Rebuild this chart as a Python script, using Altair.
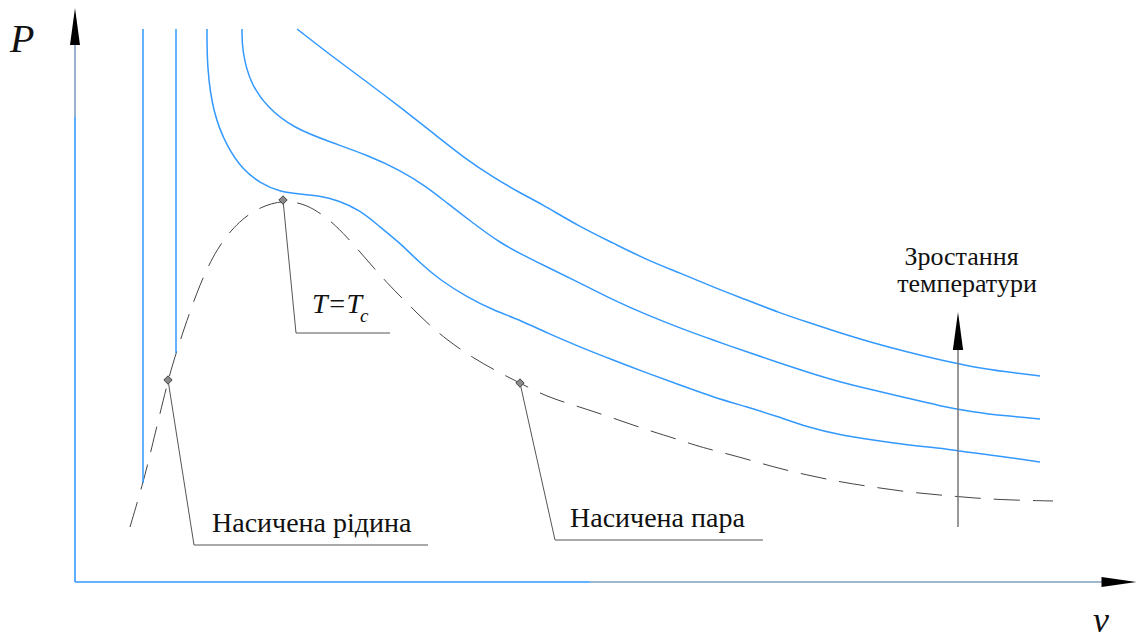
import altair as alt
import pandas as pd

BLUE = "#3399ff"
FONT = "Liberation Serif, Times New Roman, DejaVu Serif, serif"

# Critical isotherm T = Tc (specific volume v, pressure P, diagram units)
crit_v = [1.32, 1.32, 1.38, 1.52, 1.68, 1.85, 2.05, 2.25, 2.45, 2.62, 2.85, 3.05, 3.25, 3.45,
          3.65, 3.92, 4.18, 4.45, 4.72, 5.05, 5.38, 5.72, 6.05, 6.38, 6.72, 7.01, 7.32, 7.65,
          7.98, 8.32, 8.65, 8.98, 9.32, 9.65]
crit_P = [5.53, 5.15, 4.69, 4.35, 4.12, 3.99, 3.90, 3.88, 3.86, 3.82, 3.72, 3.55, 3.39, 3.19,
          3.02, 2.85, 2.72, 2.62, 2.49, 2.35, 2.22, 2.09, 1.97, 1.85, 1.75, 1.66, 1.55, 1.47,
          1.42, 1.37, 1.34, 1.29, 1.25, 1.20]

# Supercritical isotherm, T > Tc
hot1_v = [1.67, 1.67, 1.75, 1.92, 2.18, 2.58, 2.92, 3.25, 3.52, 3.72, 3.98, 4.25, 4.52, 4.72,
          5.05, 5.38, 5.72, 6.05, 6.38, 6.72, 7.05, 7.32, 7.65, 7.98, 8.32, 8.65, 8.98, 9.32, 9.65]
hot1_P = [5.53, 5.32, 4.99, 4.75, 4.54, 4.39, 4.27, 4.12, 3.95, 3.79, 3.59, 3.39, 3.25, 3.15,
          2.99, 2.82, 2.67, 2.54, 2.42, 2.30, 2.19, 2.10, 2.00, 1.92, 1.84, 1.76, 1.70, 1.66, 1.63]

# Highest isotherm
hot2_v = [2.22, 2.58, 2.92, 3.25, 3.58, 3.92, 4.18, 4.45, 4.65, 5.05, 5.38, 5.72, 6.05, 6.38,
          6.72, 7.05, 7.32, 7.65, 7.98, 8.32, 8.65, 8.98, 9.32, 9.65]
hot2_P = [5.53, 5.25, 5.00, 4.75, 4.49, 4.22, 4.05, 3.89, 3.79, 3.55, 3.39, 3.22, 3.09, 2.95,
          2.82, 2.69, 2.60, 2.49, 2.39, 2.30, 2.22, 2.15, 2.10, 2.06]

# Liquid branches of the subcritical isotherms
cold1_v = [0.68, 0.68]
cold1_P = [5.53, 0.99]
cold2_v = [1.01, 1.01]
cold2_P = [5.53, 2.29]

# Saturation dome
dome_v = [0.55, 0.68, 0.75, 0.93, 1.01, 1.22, 1.42, 1.65, 1.85, 2.08, 2.32, 2.55, 2.72, 2.92,
          3.12, 3.32, 3.52, 3.72, 3.98, 4.25, 4.45, 4.72, 5.05, 5.38, 5.72, 6.05, 6.25, 6.65,
          6.98, 7.32, 7.65, 7.98, 8.32, 8.65, 8.98, 9.32, 9.78]
dome_P = [0.55, 0.99, 1.27, 2.02, 2.29, 2.92, 3.35, 3.62, 3.75, 3.82, 3.78, 3.62, 3.45, 3.22,
          2.99, 2.79, 2.59, 2.42, 2.24, 2.09, 1.99, 1.85, 1.75, 1.64, 1.52, 1.42, 1.35, 1.25,
          1.15, 1.07, 1.00, 0.95, 0.90, 0.87, 0.84, 0.82, 0.81]

# Marked points: saturated liquid, critical point, saturated vapour
mark_v = [0.93, 2.08, 4.45]
mark_P = [2.02, 3.82, 1.99]

# Leader lines from the marked points to their captions
lead_crit_v = [2.08, 2.21, 3.15]
lead_crit_P = [3.82, 2.49, 2.49]
lead_liq_v = [0.93, 1.19, 3.53]
lead_liq_P = [2.02, 0.37, 0.37]
lead_vap_v = [4.45, 4.80, 6.88]
lead_vap_P = [1.99, 0.42, 0.42]

# Coordinate axes and the "rising temperature" arrow
yaxis_blue_v, yaxis_blue_P = [0, 0], [0, 4.65]
yaxis_grey_v, yaxis_grey_P = [0, 0], [4.65, 5.37]
xaxis_blue_v, xaxis_blue_P = [0, 5.15], [0, 0]
xaxis_grey_v, xaxis_grey_P = [5.15, 10.27], [0, 0]
temp_v, temp_P = [8.83, 8.83], [0.55, 2.32]

# Captions
cap_text = ["Насичена рідина", "Насичена пара"]
cap_v = [1.37, 4.95]
cap_P = [0.50, 0.55]
rise_text = ["Зростання", "температури"]
rise_v = [8.865, 8.92]
rise_P = [3.17, 2.90]


def path_df(vs, ps, key):
    return pd.DataFrame({"v": vs, "P": ps, "i": list(range(len(vs))), "k": key})


X = alt.X("v:Q", scale=alt.Scale(domain=[-0.75, 10.64], nice=False, zero=False), axis=None)
Y = alt.Y("P:Q", scale=alt.Scale(domain=[-0.59, 5.82], nice=False, zero=False), axis=None)


def lines(df, **kw):
    return alt.Chart(df).mark_line(**kw).encode(x=X, y=Y, detail="k:N", order="i:Q")


isotherms = lines(
    pd.concat([path_df(crit_v, crit_P, "c"), path_df(hot1_v, hot1_P, "h1"),
               path_df(hot2_v, hot2_P, "h2")]),
    color=BLUE, strokeWidth=1.5, interpolate="basis")

liquid = lines(
    pd.concat([path_df(cold1_v, cold1_P, "a"), path_df(cold2_v, cold2_P, "b")]),
    color=BLUE, strokeWidth=1.5)

dome = lines(path_df(dome_v, dome_P, "d"), color="#444444", strokeWidth=1,
             strokeDash=[26, 13], interpolate="basis")

leaders = lines(
    pd.concat([path_df(lead_crit_v, lead_crit_P, "l1"), path_df(lead_liq_v, lead_liq_P, "l2"),
               path_df(lead_vap_v, lead_vap_P, "l3")]),
    color="#555555", strokeWidth=1)

axis_blue = lines(
    pd.concat([path_df(yaxis_blue_v, yaxis_blue_P, "y"), path_df(xaxis_blue_v, xaxis_blue_P, "x")]),
    color=BLUE, strokeWidth=1.6)
axis_grey = lines(
    pd.concat([path_df(yaxis_grey_v, yaxis_grey_P, "y"), path_df(xaxis_grey_v, xaxis_grey_P, "x")]),
    color="#7f9fbf", strokeWidth=1.6)
temp_line = lines(path_df(temp_v, temp_P, "t"), color="#777777", strokeWidth=1.5)

ARROW_UP = "M0,-1L0.27,1L-0.27,1Z"
ARROW_RIGHT = "M1,0L-1,0.28L-1,-0.28Z"


def arrowhead(v, p, shape, size):
    return alt.Chart(pd.DataFrame({"v": [v], "P": [p]})).mark_point(
        shape=shape, size=size, filled=True, color="black", opacity=1, strokeWidth=0
    ).encode(x=X, y=Y)


heads = (arrowhead(0, 5.555, ARROW_UP, 1369)
         + arrowhead(10.44, 0, ARROW_RIGHT, 1225)
         + arrowhead(8.83, 2.51, ARROW_UP, 1444))

markers = alt.Chart(pd.DataFrame({"v": mark_v, "P": mark_P})).mark_point(
    shape="diamond", size=70, filled=True, fill="#8a8a8a", stroke="#444444",
    strokeWidth=1, opacity=1
).encode(x=X, y=Y)

captions = alt.Chart(pd.DataFrame({"v": cap_v, "P": cap_P, "t": cap_text})).mark_text(
    font=FONT, fontSize=28, align="left", baseline="alphabetic", color="#111111"
).encode(x=X, y=Y, text="t:N")

rise = alt.Chart(pd.DataFrame({"v": rise_v, "P": rise_P, "t": rise_text})).mark_text(
    font=FONT, fontSize=26, align="center", baseline="alphabetic", color="#111111"
).encode(x=X, y=Y, text="t:N")


def label(v, p, text, size, style="italic"):
    return alt.Chart(pd.DataFrame({"v": [v], "P": [p], "t": [text]})).mark_text(
        font=FONT, fontSize=size, fontStyle=style, align="left", baseline="alphabetic",
        color="#111111"
    ).encode(x=X, y=Y, text="t:N")


labels = (label(2.37, 2.69, "T=T", 28) + label(2.85, 2.60, "c", 19)
          + label(-0.65, 5.30, "P", 40) + label(10.18, -0.50, "v", 36))

chart = alt.layer(
    axis_blue, axis_grey, dome, leaders, liquid, isotherms, temp_line,
    heads, markers, captions, rise, labels
).properties(
    width=1139, height=641, padding=0, autosize="none", background="white"
).configure_view(stroke=None)

chart.save("out.html", embed_options={"renderer": "svg", "actions": False})
